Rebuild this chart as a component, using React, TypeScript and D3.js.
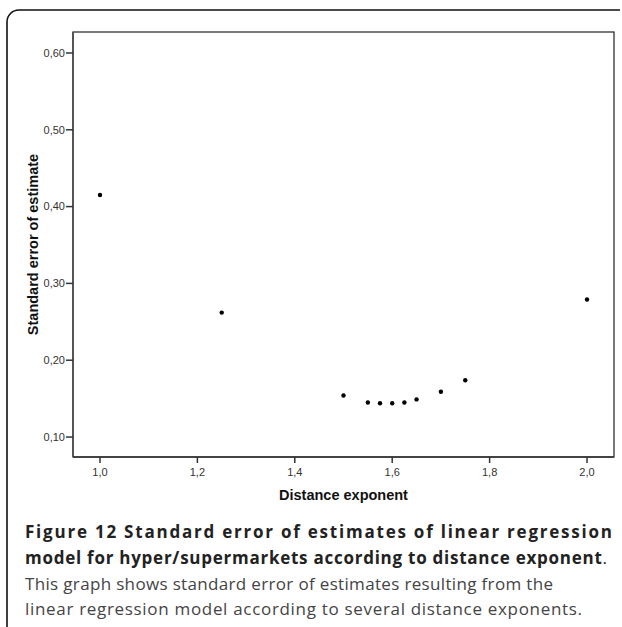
import React from "react";
import * as d3 from "d3";

const exponents = [1.0, 1.25, 1.5, 1.55, 1.575, 1.6, 1.625, 1.65, 1.7, 1.75, 2.0];
const stdErrors = [0.415, 0.262, 0.154, 0.145, 0.144, 0.144, 0.145, 0.149, 0.159, 0.174, 0.279];
const xTicks = [1.0, 1.2, 1.4, 1.6, 1.8, 2.0];
const yTicks = [0.1, 0.2, 0.3, 0.4, 0.5, 0.6];
const xTitle = "Distance exponent";
const yTitle = "Standard error of estimate";
const captionBold = [
  "Figure 12 Standard error of estimates of linear regression",
  "model for hyper/supermarkets according to distance exponent",
];
const captionNormal = [
  "This graph shows standard error of estimates resulting from the",
  "linear regression model according to several distance exponents.",
];

const W = 622;
const H = 627;
const frame = { left: 73, right: 614, top: 32, bottom: 457 };

const locale = d3.formatLocale({ decimal: ",", thousands: ".", grouping: [3], currency: ["", "€"] });
const fmtX = locale.format(".1f");
const fmtY = locale.format(".2f");

export default function App() {
  const x = d3.scaleLinear().domain([0.9446, 2.0554]).range([frame.left, frame.right]);
  const y = d3.scaleLinear().domain([0.074, 0.6273]).range([frame.bottom, frame.top]);
  const axisFont = "'Liberation Sans', Arial, sans-serif";
  const capFont = "'Open Sans', 'Noto Sans', sans-serif";
  const cx = (frame.left + frame.right) / 2;
  const cy = (frame.top + frame.bottom) / 2;

  return (
    <svg
      width={W}
      height={H}
      viewBox={`0 0 ${W} ${H}`}
      style={{ position: "absolute", left: 0, top: 0, background: "#fff" }}
    >
      <path d="M7,627 V22 A12,12 0 0 1 19,10 H620" fill="none" stroke="#111" strokeWidth={1.6} />

      <rect
        x={frame.left}
        y={frame.top}
        width={frame.right - frame.left}
        height={frame.bottom - frame.top}
        fill="#fff"
        stroke="#222"
        strokeWidth={1.2}
      />
      <line x1={frame.left} x2={frame.left} y1={frame.top} y2={frame.bottom} stroke="#555" strokeWidth={2} />
      <line x1={frame.left} x2={frame.right} y1={frame.bottom} y2={frame.bottom} stroke="#444" strokeWidth={2} />

      {yTicks.map((t) => (
        <g key={"y" + t}>
          <line x1={frame.left - 7} x2={frame.left} y1={y(t)} y2={y(t)} stroke="#333" strokeWidth={1.5} />
          <text
            x={frame.left - 8}
            y={y(t)}
            dy="0.35em"
            textAnchor="end"
            fontFamily={axisFont}
            fontSize={11}
            fill="#333"
          >
            {fmtY(t)}
          </text>
        </g>
      ))}

      {xTicks.map((t) => (
        <g key={"x" + t}>
          <line x1={x(t)} x2={x(t)} y1={frame.bottom} y2={frame.bottom + 6} stroke="#333" strokeWidth={1.5} />
          <text
            x={x(t)}
            y={frame.bottom + 19}
            textAnchor="middle"
            fontFamily={axisFont}
            fontSize={11}
            fill="#333"
          >
            {fmtX(t)}
          </text>
        </g>
      ))}

      {exponents.map((e, i) => (
        <circle key={"p" + i} cx={x(e)} cy={y(stdErrors[i])} r={2.2} fill="#000" />
      ))}

      <text
        x={cx}
        y={500}
        textAnchor="middle"
        fontFamily={axisFont}
        fontWeight="bold"
        fontSize={14.5}
        fill="#111"
      >
        {xTitle}
      </text>
      <text
        transform={`translate(38,${cy}) rotate(-90)`}
        textAnchor="middle"
        fontFamily={axisFont}
        fontWeight="bold"
        fontSize={14.5}
        fill="#111"
      >
        {yTitle}
      </text>

      <text
        x={25}
        y={538}
        fontFamily={capFont}
        fontWeight="bold"
        fontSize={17}
        fill="#222"
        textLength={587}
        lengthAdjust="spacing"
      >
        {captionBold[0]}
      </text>
      <text x={25} y={564} fontFamily={capFont} fontWeight="bold" fontSize={17} fill="#222" textLength={582} lengthAdjust="spacing">
        {captionBold[1]}
        <tspan fontWeight="normal">.</tspan>
      </text>
      <text x={25} y={590} fontFamily={capFont} fontSize={17} fill="#444" textLength={528} lengthAdjust="spacing">
        {captionNormal[0]}
      </text>
      <text x={25} y={615} fontFamily={capFont} fontSize={17} fill="#444" textLength={557} lengthAdjust="spacing">
        {captionNormal[1]}
      </text>
    </svg>
  );
}
